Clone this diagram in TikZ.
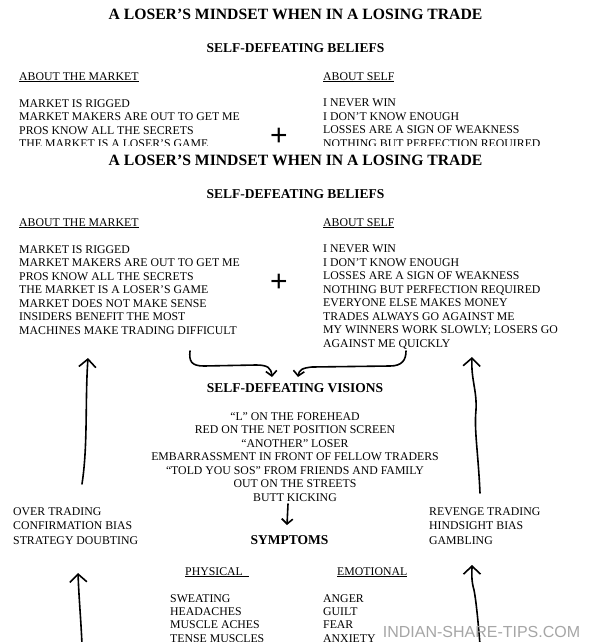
\documentclass[tikz,border=0pt]{standalone}
\usepackage{fontspec}
\setmainfont{Liberation Serif}
\newfontfamily\wmfont{Liberation Sans}
\usetikzlibrary{arrows.meta}

\newcommand{\bodyfont}{\fontsize{11.8}{13.5}\selectfont}

% the whole sheet, so it can be shown twice
\newcommand{\mindset}{%
  \node[head, font=\fontsize{15.7}{18}\selectfont\bfseries] (title) at (295.5,165.2) {A LOSER’S MINDSET WHEN IN A LOSING TRADE};
  \node[head] (beliefs) at (295.5,198.5) {SELF-DEFEATING BELIEFS};
  \node[txt, anchor=base west] (mkthead) at (19,226) {\underline{ABOUT THE MARKET}};
  \node[txt, anchor=base west] (selfhead) at (323,226) {\underline{ABOUT SELF}};
  \node[list] (mktlist) at (19,245) {MARKET IS RIGGED\\ MARKET MAKERS ARE OUT TO GET ME\\ PROS KNOW ALL THE SECRETS\\ THE MARKET IS A LOSER’S GAME\\ MARKET DOES NOT MAKE SENSE\\ INSIDERS BENEFIT THE MOST\\ MACHINES MAKE TRADING DIFFICULT};
  \node[list] (selflist) at (323,245) {I NEVER WIN\\ I DON’T KNOW ENOUGH\\ LOSSES ARE A SIGN OF WEAKNESS\\ NOTHING BUT PERFECTION REQUIRED\\ EVERYONE ELSE MAKES MONEY\\ TRADES ALWAYS GO AGAINST ME\\ MY WINNERS WORK SLOWLY; LOSERS GO\\ AGAINST ME QUICKLY};
  \node[inner sep=0pt, font=\wmfont\fontsize{30}{30}\selectfont] (plus) at (279,283) {+};
  \node[head] (vishead) at (295,392.5) {SELF-DEFEATING VISIONS};
  \node[list, anchor=north, align=center] (vislist) at (295,412) {“L” ON THE FOREHEAD\\ RED ON THE NET POSITION SCREEN\\ “ANOTHER” LOSER\\ EMBARRASSMENT IN FRONT OF FELLOW TRADERS\\ “TOLD YOU SOS” FROM FRIENDS AND FAMILY\\ OUT ON THE STREETS\\ BUTT KICKING};
  \node[head] (symhead) at (289.5,544.5) {SYMPTOMS};
  \node[list, font=\fontsize{11.8}{14.5}\selectfont] (leftlist) at (13,507) {OVER TRADING\\ CONFIRMATION BIAS\\ STRATEGY DOUBTING};
  \node[list, font=\fontsize{11.8}{14.5}\selectfont] (rightlist) at (429,507) {REVENGE TRADING\\ HINDSIGHT BIAS\\ GAMBLING};
  \node[txt, anchor=base west] (physhead) at (185,575) {\underline{PHYSICAL\ \ }};
  \node[txt, anchor=base west] (emohead) at (337,575) {\underline{EMOTIONAL}};
  \node[list, font=\fontsize{11.8}{13.4}\selectfont] (physlist) at (170,594) {SWEATING\\ HEADACHES\\ MUSCLE ACHES\\ TENSE MUSCLES};
  \node[list, font=\fontsize{11.8}{13.4}\selectfont] (emolist) at (323,594) {ANGER\\ GUILT\\ FEAR\\ ANXIETY};
  % hand drawn arrows
  \coordinate (mkt-out) at (190,351);
  \coordinate (self-out) at (406,351);
  \coordinate (vis-in-l) at (272,377);
  \coordinate (vis-in-r) at (298,377);
  \draw[pen, tip] (mkt-out) .. controls (189,361) and (191,366) .. (204,366)
    -- (256,365) .. controls (268,365) and (271,368) .. (vis-in-l);
  \draw[pen, tip] (self-out) .. controls (406,360) and (402,366) .. (390,366)
    -- (312,367) .. controls (302,368) and (299,370) .. (vis-in-r);
  \coordinate (vis-out) at (288,504);
  \coordinate (sym-in) at (287,525);
  \draw[pen, tip] (vis-out) -- (sym-in);
  \coordinate (lu-a) at (82,484);
  \coordinate (lu-b) at (88,358);
  \draw[pen, bigtip] (lu-a) .. controls (88,445) and (85,400) .. (lu-b);
  \coordinate (ru-a) at (480,493);
  \coordinate (ru-b) at (472,357);
  \draw[pen, bigtip] (ru-a) .. controls (478,450) and (474,430) .. (476,410)
    .. controls (477,390) and (471,380) .. (ru-b);
  \coordinate (ll-a) at (82,645);
  \coordinate (ll-b) at (78,573);
  \draw[pen, bigtip] (ll-a) .. controls (81,620) and (79,600) .. (ll-b);
  \coordinate (rl-a) at (480,645);
  \coordinate (rl-b) at (472,565);
  \draw[pen, bigtip] (rl-a) .. controls (478,620) and (476,600) .. (474,590)
    .. controls (471,580) and (472,572) .. (rl-b);
  \node[inner sep=0pt, anchor=base, font=\wmfont\fontsize{16}{18}\selectfont, text=black!35] (site) at (481.5,637) {INDIAN-SHARE-TIPS.COM};
}

\begin{document}
\begin{tikzpicture}[x=1pt, y=-1pt,
    txt/.style={inner sep=0pt, font=\bodyfont},
    head/.style={inner sep=0pt, anchor=base, font=\fontsize{13.5}{16}\selectfont\bfseries},
    list/.style={txt, anchor=north west, align=left},
    pen/.style={line width=1.6pt, line cap=round, line join=round},
    tip/.style={-{Straight Barb[length=5pt, width=11pt]}},
    bigtip/.style={-{Straight Barb[length=8pt, width=17pt]}}]
  \useasboundingbox (0,0) rectangle (590,642);
  \fill[white] (0,0) rectangle (590,642);
  \clip (0,0) rectangle (590,642);
  % cut off copy at the top
  \begin{scope}
    \clip (0,0) rectangle (590,145);
    \begin{scope}[shift={(0,-146)}, name prefix=top-]
      \mindset
    \end{scope}
  \end{scope}
  \mindset
\end{tikzpicture}
\end{document}
